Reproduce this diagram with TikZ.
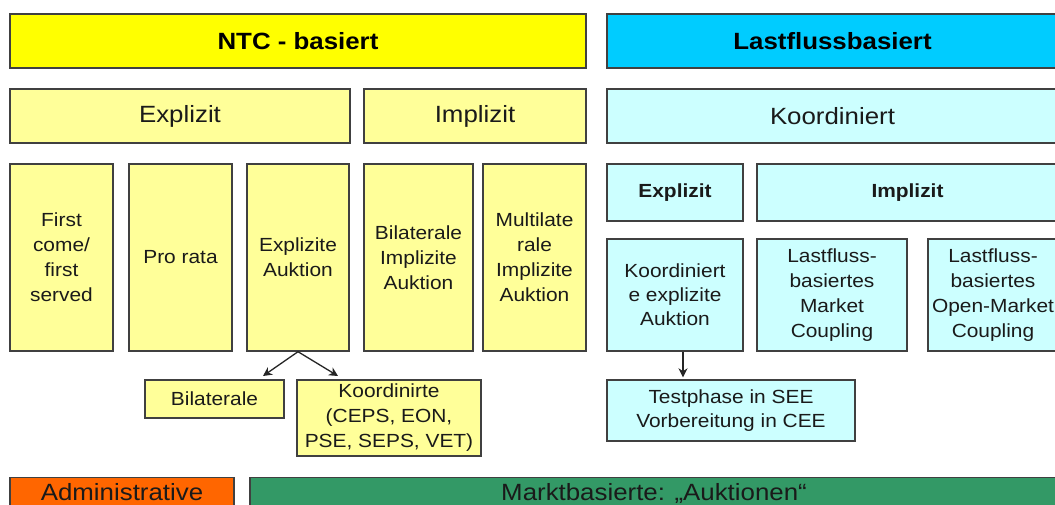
\documentclass[tikz,border=0pt]{standalone}
\usepackage{fontspec}
\setmainfont{Liberation Sans}[FakeStretch=1.1]
\usetikzlibrary{arrows.meta}
\definecolor{ntcY}{HTML}{FFFF00}
\definecolor{paleY}{HTML}{FFFF99}
\definecolor{lfC}{HTML}{00CCFF}
\definecolor{paleC}{HTML}{CCFFFF}
\definecolor{admO}{HTML}{FF6600}
\definecolor{mktG}{HTML}{339966}
\definecolor{bord}{HTML}{404040}
\definecolor{txt}{HTML}{1A1A1A}
\tikzset{
  box/.style={draw=bord, line width=1.4pt, inner sep=0pt, align=center, text=txt, rectangle},
  big/.style={box, font=\fontsize{23.5}{26}\selectfont},
  small/.style={box, font=\fontsize{19}{25}\selectfont},
  yb/.style={fill=paleY},
  cb/.style={fill=paleC},
  arr/.style={draw=black!85, line width=1.3pt, -{Stealth[length=9pt,width=9pt]}}
}
\begin{document}
\begin{tikzpicture}[x=1pt,y=-1pt]
\fill[white] (0,0) rectangle (1055,505);
\useasboundingbox (0,0) rectangle (1055,505);
\clip (0,0) rectangle (1055,505);
% row 1
\node[big, fill=ntcY, minimum width=576pt, minimum height=54pt, text=black] (ntc) at (298,41) {\bfseries NTC - basiert};
\node[big, fill=lfC, minimum width=451pt, minimum height=54pt, text=black] (lfb) at (832.5,41) {\bfseries Lastflussbasiert};
% row 2
\node[big, yb, minimum width=340pt, minimum height=54pt] (expl) at (180,116) {Explizit};
\node[big, yb, minimum width=222pt, minimum height=54pt] (impl) at (475,116) {Implizit};
\node[big, cb, minimum width=451pt, minimum height=54pt] (koord) at (832.5,116) {Koordiniert};
% row 3 left
\node[small, yb, minimum width=103pt, minimum height=187pt] (fcfs) at (61.5,257.5) {First\\come/\\first\\served};
\node[small, yb, minimum width=103pt, minimum height=187pt] (pro) at (180.5,257.5) {Pro rata};
\node[small, yb, minimum width=102pt, minimum height=187pt] (ea) at (298,257.5) {Explizite\\Auktion};
\node[small, yb, minimum width=109pt, minimum height=187pt] (bia) at (418.5,257.5) {Bilaterale\\Implizite\\Auktion};
\node[small, yb, minimum width=103pt, minimum height=187pt] (mia) at (534.5,257.5) {Multilate\\rale\\Implizite\\Auktion};
% row 3 right
\node[small, cb, minimum width=136pt, minimum height=57pt] (rexpl) at (675,192.5) {\bfseries Explizit};
\node[small, cb, minimum width=301pt, minimum height=57pt] (rimpl) at (907.5,192.5) {\bfseries Implizit};
\node[small, cb, minimum width=136pt, minimum height=112pt, font=\fontsize{19}{24}\selectfont] (ke) at (675,295) {Koordiniert\\e explizite\\Auktion};
\node[small, cb, minimum width=150pt, minimum height=112pt] (lmc) at (832,295) {Lastfluss-\\basiertes\\Market\\Coupling};
\node[small, cb, minimum width=130pt, minimum height=112pt] (lomc) at (993,295) {Lastfluss-\\basiertes\\Open-Market\\Coupling};
% row 4
\node[small, yb, minimum width=139pt, minimum height=38pt] (bil) at (214.5,399) {Bilaterale};
\node[small, yb, minimum width=184pt, minimum height=76pt] (kor) at (389,418) {Koordinirte\\(CEPS, EON,\\PSE, SEPS, VET)};
\node[small, cb, minimum width=248pt, minimum height=61pt, font=\fontsize{19}{24}\selectfont] (tp) at (731,410.5) {Testphase in SEE\\Vorbereitung in CEE};
% bottom row
\node[big, fill=admO, anchor=north, minimum width=224pt, text height=23pt, text depth=30pt] (adm) at (122,477) {Administrative};
\node[big, fill=mktG, anchor=north, minimum width=808pt, text height=23pt, text depth=30pt] (mkt) at (654,477) {Marktbasierte: „Auktionen“};
% connectors
\coordinate (t1) at (263,376);
\coordinate (t2) at (338,376);
\draw[arr] (ea.south) -- (t1);
\draw[arr] (ea.south) -- (t2);
\draw[arr, shorten >=2pt] ([xshift=8pt]ke.south) -- ([xshift=8pt]ke.south |- tp.north);
\end{tikzpicture}
\end{document}
